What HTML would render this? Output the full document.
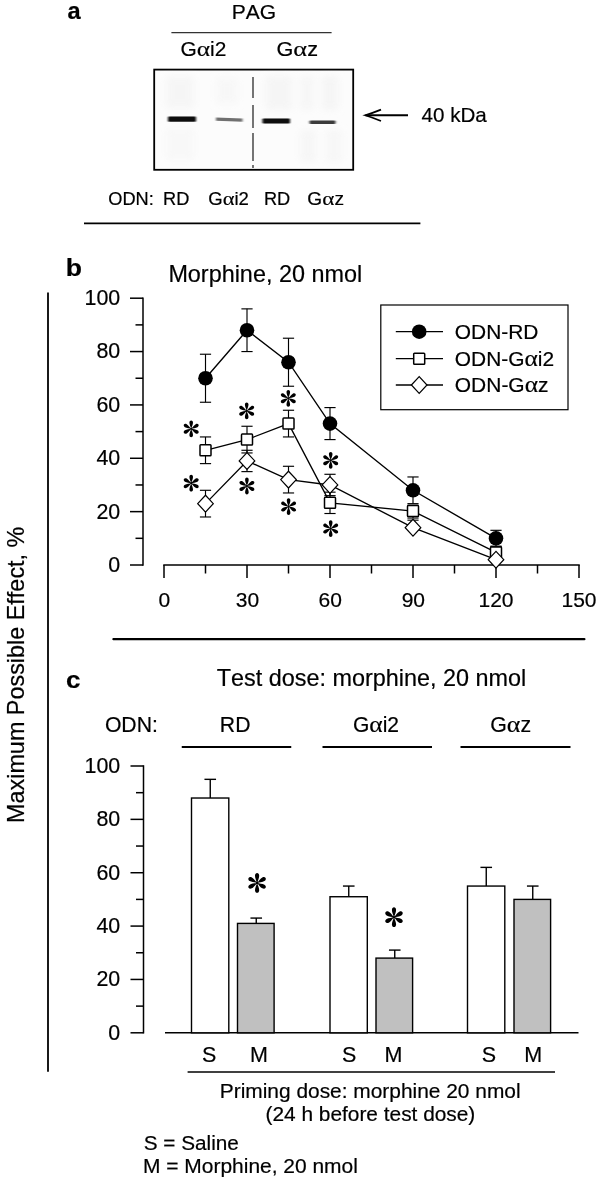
<!DOCTYPE html>
<html><head><meta charset="utf-8"><title>Figure</title>
<style>
html,body{margin:0;padding:0;background:#fff;}
body{width:600px;height:1180px;overflow:hidden;font-family:"Liberation Sans",sans-serif;}
svg{display:block;}
svg text{font-family:"Liberation Sans",sans-serif;fill:#000;font-kerning:none;stroke:#000;stroke-width:0.2px;}
svg text.al{font-family:"Liberation Serif",serif;stroke-width:0.15px;}
</style></head><body>
<svg width="600" height="1180" viewBox="0 0 600 1180" style="opacity:0.999">
<rect width="600" height="1180" fill="#fff"/>
<defs>
<g id="ast">
<circle r="1.1" fill="#000"/>
<path id="arm" d="M0,0 C-0.5,-1.6 -1.85,-4.4 -1.8,-6.2 C-1.75,-7.6 -0.95,-8.4 0,-8.4 C0.95,-8.4 1.75,-7.6 1.8,-6.2 C1.85,-4.4 0.5,-1.6 0,0 Z" fill="#000"/>
<use href="#arm" transform="rotate(60)"/>
<use href="#arm" transform="rotate(120)"/>
<use href="#arm" transform="rotate(180)"/>
<use href="#arm" transform="rotate(240)"/>
<use href="#arm" transform="rotate(300)"/>
</g>
<filter id="b1" x="-20%" y="-150%" width="140%" height="400%"><feGaussianBlur stdDeviation="0.8 0.6"/></filter>
<filter id="b2" x="-30%" y="-30%" width="160%" height="160%"><feGaussianBlur stdDeviation="3.5"/></filter>
</defs>
<text transform="translate(67.51,19.3) scale(0.9929,1)" font-size="23.8" font-weight="bold" xml:space="preserve">a</text>
<text x="231.65" y="18.8" font-size="21" font-weight="normal" xml:space="preserve">PAG</text>
<line x1="171.4" y1="32.6" x2="331.6" y2="32.6" stroke="#333" stroke-width="1.1"/>
<text transform="translate(180.45,55.6) scale(1.0192,1)" font-size="20.5" font-weight="normal" xml:space="preserve">G</text>
<text transform="translate(196.7,55.6) scale(1.2373,1.06)" font-size="20.5" font-family="Liberation Serif, serif" class="al">α</text>
<text transform="translate(209.99,55.6) scale(1.0192,1)" font-size="20.5" font-weight="normal" xml:space="preserve">i2</text>
<text transform="translate(276.51,55.6) scale(1.0569,1)" font-size="20.5" font-weight="normal" xml:space="preserve">G</text>
<text transform="translate(293.36,55.6) scale(1.2831,1.06)" font-size="20.5" font-family="Liberation Serif, serif" class="al">α</text>
<text transform="translate(307.15,55.6) scale(1.0569,1)" font-size="20.5" font-weight="normal" xml:space="preserve">z</text>
<rect x="154.2" y="69.6" width="199" height="100.2" fill="#fcfcfc" stroke="#000" stroke-width="1.8"/>
<g filter="url(#b2)" opacity="0.55"><rect x="166" y="76" width="28" height="32" fill="#f1f1f1"/><rect x="216" y="78" width="22" height="26" fill="#f4f4f4"/><rect x="266" y="76" width="26" height="34" fill="#f0f0f0"/><rect x="300" y="76" width="14" height="34" fill="#f2f2f2"/><rect x="322" y="76" width="16" height="34" fill="#f0f0f0"/><rect x="166" y="128" width="28" height="32" fill="#f5f5f5"/><rect x="300" y="130" width="16" height="32" fill="#f2f2f2"/><rect x="326" y="130" width="16" height="32" fill="#f3f3f3"/></g>
<line x1="253" y1="77" x2="253" y2="168" stroke="#3c3c3c" stroke-width="1.4" stroke-dasharray="21 7 23 5 28 4 3 100"/>
<g filter="url(#b1)"><rect x="168" y="116.6" width="28" height="5.2" rx="1" fill="#0a0a0a"/><path d="M216,117.4 L242.5,118.6 L242.5,121.8 L216,120.8 Z" fill="#707070"/><rect x="262.5" y="118.6" width="27.5" height="4.8" rx="1" fill="#0d0d0d"/><rect x="309.5" y="120.6" width="26" height="3.4" rx="1" fill="#3a3a3a"/></g>
<line x1="365.5" y1="115.3" x2="408" y2="115.3" stroke="#000" stroke-width="1.9" />
<path d="M381,109.6 Q372,113.2 365.2,115.3 Q372,117.4 381,121" fill="none" stroke="#000" stroke-width="1.7" stroke-linejoin="miter"/>
<text x="421.53" y="122.2" font-size="20.6" font-weight="normal" xml:space="preserve">40 kDa</text>
<text x="108.34" y="205" font-size="18.2" font-weight="normal" xml:space="preserve">ODN:</text>
<text x="163.11" y="205" font-size="18.2" font-weight="normal" xml:space="preserve">RD</text>
<text transform="translate(208.27,205) scale(1.0192,1)" font-size="18.2" font-weight="normal" xml:space="preserve">G</text>
<text transform="translate(222.7,205) scale(1.2374,1.06)" font-size="18.2" font-family="Liberation Serif, serif" class="al">α</text>
<text transform="translate(234.49,205) scale(1.0192,1)" font-size="18.2" font-weight="normal" xml:space="preserve">i2</text>
<text x="263.91" y="205" font-size="18.2" font-weight="normal" xml:space="preserve">RD</text>
<text transform="translate(307.34,205) scale(1.0512,1)" font-size="18.2" font-weight="normal" xml:space="preserve">G</text>
<text transform="translate(322.22,205) scale(1.2761,1.06)" font-size="18.2" font-family="Liberation Serif, serif" class="al">α</text>
<text transform="translate(334.39,205) scale(1.0512,1)" font-size="18.2" font-weight="normal" xml:space="preserve">z</text>
<line x1="84" y1="223.4" x2="420.4" y2="223.4" stroke="#000" stroke-width="1.7" />
<line x1="48" y1="292.4" x2="48" y2="1071.7" stroke="#000" stroke-width="1.8" />
<text transform="translate(24.1,823) rotate(-90)" font-size="23.4" text-anchor="start">Maximum Possible Effect, %</text>
<text transform="translate(65.85,275.8) scale(1.1173,1)" font-size="23.8" font-weight="bold" xml:space="preserve">b</text>
<text x="168.38" y="282" font-size="23.4" font-weight="normal" xml:space="preserve">Morphine, 20 nmol</text>
<line x1="143" y1="297.45" x2="143" y2="565.75" stroke="#000" stroke-width="1.5" />
<line x1="130" y1="565.0" x2="143" y2="565.0" stroke="#000" stroke-width="1.5" />
<text x="108.33" y="571.9" font-size="21.4" font-weight="normal" xml:space="preserve">0</text>
<line x1="135.5" y1="538.32" x2="143" y2="538.32" stroke="#000" stroke-width="1.5" />
<line x1="130" y1="511.64" x2="143" y2="511.64" stroke="#000" stroke-width="1.5" />
<text x="96.43" y="518.54" font-size="21.4" font-weight="normal" xml:space="preserve">20</text>
<line x1="135.5" y1="484.96" x2="143" y2="484.96" stroke="#000" stroke-width="1.5" />
<line x1="130" y1="458.28" x2="143" y2="458.28" stroke="#000" stroke-width="1.5" />
<text x="96.43" y="465.17999999999995" font-size="21.4" font-weight="normal" xml:space="preserve">40</text>
<line x1="135.5" y1="431.6" x2="143" y2="431.6" stroke="#000" stroke-width="1.5" />
<line x1="130" y1="404.92" x2="143" y2="404.92" stroke="#000" stroke-width="1.5" />
<text x="96.43" y="411.82" font-size="21.4" font-weight="normal" xml:space="preserve">60</text>
<line x1="135.5" y1="378.24" x2="143" y2="378.24" stroke="#000" stroke-width="1.5" />
<line x1="130" y1="351.56" x2="143" y2="351.56" stroke="#000" stroke-width="1.5" />
<text x="96.43" y="358.46" font-size="21.4" font-weight="normal" xml:space="preserve">80</text>
<line x1="135.5" y1="324.88" x2="143" y2="324.88" stroke="#000" stroke-width="1.5" />
<line x1="130" y1="298.2" x2="143" y2="298.2" stroke="#000" stroke-width="1.5" />
<text x="84.53" y="305.09999999999997" font-size="21.4" font-weight="normal" xml:space="preserve">100</text>
<line x1="163.25" y1="565" x2="579.75" y2="565" stroke="#000" stroke-width="1.5" />
<line x1="164.0" y1="565" x2="164.0" y2="578" stroke="#000" stroke-width="1.5" />
<text x="158.56" y="607" font-size="21" font-weight="normal" xml:space="preserve">0</text>
<line x1="205.5" y1="565" x2="205.5" y2="573.5" stroke="#000" stroke-width="1.5" />
<line x1="247.0" y1="565" x2="247.0" y2="578" stroke="#000" stroke-width="1.5" />
<text x="235.73" y="607" font-size="21" font-weight="normal" xml:space="preserve">30</text>
<line x1="288.5" y1="565" x2="288.5" y2="573.5" stroke="#000" stroke-width="1.5" />
<line x1="330.0" y1="565" x2="330.0" y2="578" stroke="#000" stroke-width="1.5" />
<text x="318.6" y="607" font-size="21" font-weight="normal" xml:space="preserve">60</text>
<line x1="371.5" y1="565" x2="371.5" y2="573.5" stroke="#000" stroke-width="1.5" />
<line x1="413.0" y1="565" x2="413.0" y2="578" stroke="#000" stroke-width="1.5" />
<text x="401.64" y="607" font-size="21" font-weight="normal" xml:space="preserve">90</text>
<line x1="454.5" y1="565" x2="454.5" y2="573.5" stroke="#000" stroke-width="1.5" />
<line x1="496.0" y1="565" x2="496.0" y2="578" stroke="#000" stroke-width="1.5" />
<text x="478.49" y="607" font-size="21" font-weight="normal" xml:space="preserve">120</text>
<line x1="537.5" y1="565" x2="537.5" y2="573.5" stroke="#000" stroke-width="1.5" />
<line x1="579.0" y1="565" x2="579.0" y2="578" stroke="#000" stroke-width="1.5" />
<text x="561.49" y="607" font-size="21" font-weight="normal" xml:space="preserve">150</text>
<line x1="113.4" y1="639.2" x2="584.4" y2="639.2" stroke="#000" stroke-width="2.2" stroke-linecap="round"/>
<polyline points="205.5,378.24 247.0,330.22 288.5,362.23 330.0,423.6 413.0,490.3 496.0,538.32" fill="none" stroke="#000" stroke-width="1.35"/>
<line x1="205.5" y1="378.24" x2="205.5" y2="354.23" stroke="#000" stroke-width="1.15" />
<line x1="199.9" y1="354.23" x2="211.1" y2="354.23" stroke="#000" stroke-width="1.15" />
<line x1="205.5" y1="378.24" x2="205.5" y2="402.25" stroke="#000" stroke-width="1.15" />
<line x1="199.9" y1="402.25" x2="211.1" y2="402.25" stroke="#000" stroke-width="1.15" />
<line x1="247.0" y1="330.22" x2="247.0" y2="308.87" stroke="#000" stroke-width="1.15" />
<line x1="241.4" y1="308.87" x2="252.6" y2="308.87" stroke="#000" stroke-width="1.15" />
<line x1="247.0" y1="330.22" x2="247.0" y2="351.56" stroke="#000" stroke-width="1.15" />
<line x1="241.4" y1="351.56" x2="252.6" y2="351.56" stroke="#000" stroke-width="1.15" />
<line x1="288.5" y1="362.23" x2="288.5" y2="338.22" stroke="#000" stroke-width="1.15" />
<line x1="282.9" y1="338.22" x2="294.1" y2="338.22" stroke="#000" stroke-width="1.15" />
<line x1="288.5" y1="362.23" x2="288.5" y2="386.24" stroke="#000" stroke-width="1.15" />
<line x1="282.9" y1="386.24" x2="294.1" y2="386.24" stroke="#000" stroke-width="1.15" />
<line x1="330.0" y1="423.6" x2="330.0" y2="407.59" stroke="#000" stroke-width="1.15" />
<line x1="324.4" y1="407.59" x2="335.6" y2="407.59" stroke="#000" stroke-width="1.15" />
<line x1="330.0" y1="423.6" x2="330.0" y2="439.6" stroke="#000" stroke-width="1.15" />
<line x1="324.4" y1="439.6" x2="335.6" y2="439.6" stroke="#000" stroke-width="1.15" />
<line x1="413.0" y1="490.3" x2="413.0" y2="476.96" stroke="#000" stroke-width="1.15" />
<line x1="407.4" y1="476.96" x2="418.6" y2="476.96" stroke="#000" stroke-width="1.15" />
<line x1="413.0" y1="490.3" x2="413.0" y2="503.64" stroke="#000" stroke-width="1.15" />
<line x1="407.4" y1="503.64" x2="418.6" y2="503.64" stroke="#000" stroke-width="1.15" />
<line x1="496.0" y1="538.32" x2="496.0" y2="530.32" stroke="#000" stroke-width="1.15" />
<line x1="490.4" y1="530.32" x2="501.6" y2="530.32" stroke="#000" stroke-width="1.15" />
<line x1="496.0" y1="538.32" x2="496.0" y2="546.32" stroke="#000" stroke-width="1.15" />
<line x1="490.4" y1="546.32" x2="501.6" y2="546.32" stroke="#000" stroke-width="1.15" />
<circle cx="205.5" cy="378.24" r="7.3" fill="#000"/>
<circle cx="247.0" cy="330.22" r="7.3" fill="#000"/>
<circle cx="288.5" cy="362.23" r="7.3" fill="#000"/>
<circle cx="330.0" cy="423.6" r="7.3" fill="#000"/>
<circle cx="413.0" cy="490.3" r="7.3" fill="#000"/>
<circle cx="496.0" cy="538.32" r="7.3" fill="#000"/>
<polyline points="205.5,450.28 247.0,439.6 288.5,423.6 330.0,502.84 413.0,511.11 496.0,552.46" fill="none" stroke="#000" stroke-width="1.35"/>
<line x1="205.5" y1="450.28" x2="205.5" y2="436.94" stroke="#000" stroke-width="1.15" />
<line x1="199.9" y1="436.94" x2="211.1" y2="436.94" stroke="#000" stroke-width="1.15" />
<line x1="205.5" y1="450.28" x2="205.5" y2="463.62" stroke="#000" stroke-width="1.15" />
<line x1="199.9" y1="463.62" x2="211.1" y2="463.62" stroke="#000" stroke-width="1.15" />
<line x1="247.0" y1="439.6" x2="247.0" y2="426.26" stroke="#000" stroke-width="1.15" />
<line x1="241.4" y1="426.26" x2="252.6" y2="426.26" stroke="#000" stroke-width="1.15" />
<line x1="247.0" y1="439.6" x2="247.0" y2="452.94" stroke="#000" stroke-width="1.15" />
<line x1="241.4" y1="452.94" x2="252.6" y2="452.94" stroke="#000" stroke-width="1.15" />
<line x1="288.5" y1="423.6" x2="288.5" y2="410.26" stroke="#000" stroke-width="1.15" />
<line x1="282.9" y1="410.26" x2="294.1" y2="410.26" stroke="#000" stroke-width="1.15" />
<line x1="288.5" y1="423.6" x2="288.5" y2="436.94" stroke="#000" stroke-width="1.15" />
<line x1="282.9" y1="436.94" x2="294.1" y2="436.94" stroke="#000" stroke-width="1.15" />
<line x1="330.0" y1="502.84" x2="330.0" y2="492.16" stroke="#000" stroke-width="1.15" />
<line x1="324.4" y1="492.16" x2="335.6" y2="492.16" stroke="#000" stroke-width="1.15" />
<line x1="330.0" y1="502.84" x2="330.0" y2="513.51" stroke="#000" stroke-width="1.15" />
<line x1="324.4" y1="513.51" x2="335.6" y2="513.51" stroke="#000" stroke-width="1.15" />
<line x1="413.0" y1="511.11" x2="413.0" y2="505.24" stroke="#000" stroke-width="1.15" />
<line x1="407.4" y1="505.24" x2="418.6" y2="505.24" stroke="#000" stroke-width="1.15" />
<line x1="413.0" y1="511.11" x2="413.0" y2="518.04" stroke="#000" stroke-width="1.15" />
<line x1="407.4" y1="518.04" x2="418.6" y2="518.04" stroke="#000" stroke-width="1.15" />
<line x1="496.0" y1="552.46" x2="496.0" y2="546.32" stroke="#000" stroke-width="1.15" />
<line x1="490.4" y1="546.32" x2="501.6" y2="546.32" stroke="#000" stroke-width="1.15" />
<rect x="200.0" y="444.78" width="11" height="11" rx="0.8" fill="#fff" stroke="#000" stroke-width="1.5"/>
<rect x="241.5" y="434.1" width="11" height="11" rx="0.8" fill="#fff" stroke="#000" stroke-width="1.5"/>
<rect x="283.0" y="418.1" width="11" height="11" rx="0.8" fill="#fff" stroke="#000" stroke-width="1.5"/>
<rect x="324.5" y="497.34" width="11" height="11" rx="0.8" fill="#fff" stroke="#000" stroke-width="1.5"/>
<rect x="407.5" y="505.61" width="11" height="11" rx="0.8" fill="#fff" stroke="#000" stroke-width="1.5"/>
<rect x="490.5" y="546.96" width="11" height="11" rx="0.8" fill="#fff" stroke="#000" stroke-width="1.5"/>
<polyline points="205.5,503.64 247.0,460.95 288.5,479.62 330.0,484.96 413.0,527.65 496.0,559.66" fill="none" stroke="#000" stroke-width="1.35"/>
<line x1="205.5" y1="503.64" x2="205.5" y2="490.3" stroke="#000" stroke-width="1.15" />
<line x1="199.9" y1="490.3" x2="211.1" y2="490.3" stroke="#000" stroke-width="1.15" />
<line x1="205.5" y1="503.64" x2="205.5" y2="516.98" stroke="#000" stroke-width="1.15" />
<line x1="199.9" y1="516.98" x2="211.1" y2="516.98" stroke="#000" stroke-width="1.15" />
<line x1="247.0" y1="460.95" x2="247.0" y2="450.28" stroke="#000" stroke-width="1.15" />
<line x1="241.4" y1="450.28" x2="252.6" y2="450.28" stroke="#000" stroke-width="1.15" />
<line x1="247.0" y1="460.95" x2="247.0" y2="471.62" stroke="#000" stroke-width="1.15" />
<line x1="241.4" y1="471.62" x2="252.6" y2="471.62" stroke="#000" stroke-width="1.15" />
<line x1="288.5" y1="479.62" x2="288.5" y2="466.28" stroke="#000" stroke-width="1.15" />
<line x1="282.9" y1="466.28" x2="294.1" y2="466.28" stroke="#000" stroke-width="1.15" />
<line x1="288.5" y1="479.62" x2="288.5" y2="492.96" stroke="#000" stroke-width="1.15" />
<line x1="282.9" y1="492.96" x2="294.1" y2="492.96" stroke="#000" stroke-width="1.15" />
<line x1="330.0" y1="484.96" x2="330.0" y2="474.29" stroke="#000" stroke-width="1.15" />
<line x1="324.4" y1="474.29" x2="335.6" y2="474.29" stroke="#000" stroke-width="1.15" />
<line x1="330.0" y1="484.96" x2="330.0" y2="495.63" stroke="#000" stroke-width="1.15" />
<line x1="324.4" y1="495.63" x2="335.6" y2="495.63" stroke="#000" stroke-width="1.15" />
<line x1="413.0" y1="527.65" x2="413.0" y2="520.18" stroke="#000" stroke-width="1.15" />
<line x1="407.4" y1="520.18" x2="418.6" y2="520.18" stroke="#000" stroke-width="1.15" />
<path d="M197.7,503.64 L205.5,495.24 L213.3,503.64 L205.5,512.04 Z" fill="#fff" stroke="#000" stroke-width="1.2"/>
<path d="M239.2,460.95 L247.0,452.55 L254.8,460.95 L247.0,469.35 Z" fill="#fff" stroke="#000" stroke-width="1.2"/>
<path d="M280.7,479.62 L288.5,471.22 L296.3,479.62 L288.5,488.02 Z" fill="#fff" stroke="#000" stroke-width="1.2"/>
<path d="M322.2,484.96 L330.0,476.56 L337.8,484.96 L330.0,493.36 Z" fill="#fff" stroke="#000" stroke-width="1.2"/>
<path d="M405.2,527.65 L413.0,519.25 L420.8,527.65 L413.0,536.05 Z" fill="#fff" stroke="#000" stroke-width="1.2"/>
<path d="M488.2,559.66 L496.0,551.26 L503.8,559.66 L496.0,568.06 Z" fill="#fff" stroke="#000" stroke-width="1.2"/>
<use href="#ast" transform="translate(191.2,428.8) scale(1.0)"/>
<use href="#ast" transform="translate(246.7,410.8) scale(1.0)"/>
<use href="#ast" transform="translate(288.3,398.3) scale(1.0)"/>
<use href="#ast" transform="translate(330.7,460.3) scale(1.0)"/>
<use href="#ast" transform="translate(191.2,483.2) scale(1.0)"/>
<use href="#ast" transform="translate(246.9,486) scale(1.0)"/>
<use href="#ast" transform="translate(288.6,506.6) scale(1.0)"/>
<use href="#ast" transform="translate(330.7,528.6) scale(1.0)"/>
<rect x="380.8" y="305" width="187.2" height="104.7" fill="#fff" stroke="#000" stroke-width="1.2"/>
<line x1="395.8" y1="331.7" x2="443" y2="331.7" stroke="#000" stroke-width="1.3" />
<circle cx="419.2" cy="331.7" r="7.3" fill="#000"/>
<text transform="translate(454.81,339.0) scale(0.9965,1)" font-size="21" font-weight="normal" xml:space="preserve">ODN-RD</text>
<line x1="395.8" y1="358.7" x2="443" y2="358.7" stroke="#000" stroke-width="1.3" />
<rect x="413.7" y="353.2" width="11" height="11" rx="0.8" fill="#fff" stroke="#000" stroke-width="1.5"/>
<text transform="translate(454.81,366.0) scale(0.9955,1)" font-size="21" font-weight="normal" xml:space="preserve">ODN-G</text>
<text transform="translate(524.48,366.0) scale(1.2085,1.06)" font-size="21" font-family="Liberation Serif, serif" class="al">α</text>
<text transform="translate(537.78,366.0) scale(0.9955,1)" font-size="21" font-weight="normal" xml:space="preserve">i2</text>
<line x1="395.8" y1="385" x2="443" y2="385" stroke="#000" stroke-width="1.3" />
<path d="M411.4,385 L419.2,376.6 L427.0,385 L419.2,393.4 Z" fill="#fff" stroke="#000" stroke-width="1.2"/>
<text transform="translate(454.81,392.3) scale(0.9988,1)" font-size="21" font-weight="normal" xml:space="preserve">ODN-G</text>
<text transform="translate(524.72,392.3) scale(1.2126,1.06)" font-size="21" font-family="Liberation Serif, serif" class="al">α</text>
<text transform="translate(538.06,392.3) scale(0.9988,1)" font-size="21" font-weight="normal" xml:space="preserve">z</text>
<text transform="translate(65.98,687.8) scale(1.0939,1)" font-size="23.8" font-weight="bold" xml:space="preserve">c</text>
<text x="216.77" y="686" font-size="23.4" font-weight="normal" xml:space="preserve">Test dose: morphine, 20 nmol</text>
<text x="104.9" y="731.7" font-size="21.2" font-weight="normal" xml:space="preserve">ODN:</text>
<text x="219.86" y="731.7" font-size="21.2" font-weight="normal" xml:space="preserve">RD</text>
<text transform="translate(352.94,731.7) scale(0.9923,1)" font-size="21.2" font-weight="normal" xml:space="preserve">G</text>
<text transform="translate(369.3,731.7) scale(1.2046,1.06)" font-size="21.2" font-family="Liberation Serif, serif" class="al">α</text>
<text transform="translate(382.68,731.7) scale(0.9923,1)" font-size="21.2" font-weight="normal" xml:space="preserve">i2</text>
<text transform="translate(490.23,731.7) scale(1.0064,1)" font-size="21.2" font-weight="normal" xml:space="preserve">G</text>
<text transform="translate(506.82,731.7) scale(1.2218,1.06)" font-size="21.2" font-family="Liberation Serif, serif" class="al">α</text>
<text transform="translate(520.39,731.7) scale(1.0064,1)" font-size="21.2" font-weight="normal" xml:space="preserve">z</text>
<line x1="181.75" y1="747" x2="291.25" y2="747" stroke="#000" stroke-width="2" />
<line x1="322.5" y1="747" x2="432" y2="747" stroke="#000" stroke-width="2" />
<line x1="460.5" y1="747" x2="570.5" y2="747" stroke="#000" stroke-width="2" />
<line x1="143.5" y1="765.25" x2="143.5" y2="1033.55" stroke="#000" stroke-width="1.5" />
<line x1="130.5" y1="1032.8" x2="143.5" y2="1032.8" stroke="#000" stroke-width="1.5" />
<text x="108.33" y="1039.7" font-size="21.4" font-weight="normal" xml:space="preserve">0</text>
<line x1="136" y1="1006.12" x2="143.5" y2="1006.12" stroke="#000" stroke-width="1.5" />
<line x1="130.5" y1="979.44" x2="143.5" y2="979.44" stroke="#000" stroke-width="1.5" />
<text x="96.43" y="986.34" font-size="21.4" font-weight="normal" xml:space="preserve">20</text>
<line x1="136" y1="952.76" x2="143.5" y2="952.76" stroke="#000" stroke-width="1.5" />
<line x1="130.5" y1="926.08" x2="143.5" y2="926.08" stroke="#000" stroke-width="1.5" />
<text x="96.43" y="932.98" font-size="21.4" font-weight="normal" xml:space="preserve">40</text>
<line x1="136" y1="899.4" x2="143.5" y2="899.4" stroke="#000" stroke-width="1.5" />
<line x1="130.5" y1="872.72" x2="143.5" y2="872.72" stroke="#000" stroke-width="1.5" />
<text x="96.43" y="879.62" font-size="21.4" font-weight="normal" xml:space="preserve">60</text>
<line x1="136" y1="846.04" x2="143.5" y2="846.04" stroke="#000" stroke-width="1.5" />
<line x1="130.5" y1="819.36" x2="143.5" y2="819.36" stroke="#000" stroke-width="1.5" />
<text x="96.43" y="826.26" font-size="21.4" font-weight="normal" xml:space="preserve">80</text>
<line x1="136" y1="792.68" x2="143.5" y2="792.68" stroke="#000" stroke-width="1.5" />
<line x1="130.5" y1="766.0" x2="143.5" y2="766.0" stroke="#000" stroke-width="1.5" />
<text x="84.53" y="772.9" font-size="21.4" font-weight="normal" xml:space="preserve">100</text>
<line x1="165" y1="1032.8" x2="578.5" y2="1032.8" stroke="#000" stroke-width="1.5" />
<line x1="210.25" y1="798.02" x2="210.25" y2="779.34" stroke="#000" stroke-width="1.4" />
<line x1="204.45" y1="779.34" x2="216.05" y2="779.34" stroke="#000" stroke-width="1.4" />
<rect x="191.5" y="798.02" width="37.3" height="234.78" fill="#fff" stroke="#000" stroke-width="1.4"/>
<text x="201.94" y="1062" font-size="21.5" font-weight="normal" xml:space="preserve">S</text>
<line x1="256.25" y1="923.41" x2="256.25" y2="918.08" stroke="#000" stroke-width="1.4" />
<line x1="250.45" y1="918.08" x2="262.05" y2="918.08" stroke="#000" stroke-width="1.4" />
<rect x="237.5" y="923.41" width="36.6" height="109.39" fill="#c0c0c0" stroke="#000" stroke-width="1.4"/>
<text x="250.05" y="1062" font-size="21.5" font-weight="normal" xml:space="preserve">M</text>
<line x1="348.75" y1="896.73" x2="348.75" y2="886.06" stroke="#000" stroke-width="1.4" />
<line x1="342.95" y1="886.06" x2="354.55" y2="886.06" stroke="#000" stroke-width="1.4" />
<rect x="330" y="896.73" width="37.3" height="136.07" fill="#fff" stroke="#000" stroke-width="1.4"/>
<text x="341.94" y="1062" font-size="21.5" font-weight="normal" xml:space="preserve">S</text>
<line x1="394.75" y1="958.1" x2="394.75" y2="950.09" stroke="#000" stroke-width="1.4" />
<line x1="388.95" y1="950.09" x2="400.55" y2="950.09" stroke="#000" stroke-width="1.4" />
<rect x="376" y="958.1" width="36.6" height="74.7" fill="#c0c0c0" stroke="#000" stroke-width="1.4"/>
<text x="384.55" y="1062" font-size="21.5" font-weight="normal" xml:space="preserve">M</text>
<line x1="486.25" y1="886.06" x2="486.25" y2="867.38" stroke="#000" stroke-width="1.4" />
<line x1="480.45" y1="867.38" x2="492.05" y2="867.38" stroke="#000" stroke-width="1.4" />
<rect x="467.5" y="886.06" width="37.3" height="146.74" fill="#fff" stroke="#000" stroke-width="1.4"/>
<text x="481.84" y="1062" font-size="21.5" font-weight="normal" xml:space="preserve">S</text>
<line x1="532.75" y1="899.4" x2="532.75" y2="886.06" stroke="#000" stroke-width="1.4" />
<line x1="526.95" y1="886.06" x2="538.55" y2="886.06" stroke="#000" stroke-width="1.4" />
<rect x="514" y="899.4" width="36.6" height="133.4" fill="#c0c0c0" stroke="#000" stroke-width="1.4"/>
<text x="524.35" y="1062" font-size="21.5" font-weight="normal" xml:space="preserve">M</text>
<use href="#ast" transform="translate(257.1,882.9) scale(1.17)"/>
<use href="#ast" transform="translate(394,917.2) scale(1.17)"/>
<line x1="187.6" y1="1072" x2="555" y2="1072" stroke="#000" stroke-width="1.7" />
<text transform="translate(219.78,1097.7) scale(0.996,1)" font-size="21" font-weight="normal" xml:space="preserve">Priming dose: morphine 20 nmol</text>
<text transform="translate(265.51,1120.9) scale(0.9934,1)" font-size="21" font-weight="normal" xml:space="preserve">(24 h before test dose)</text>
<text transform="translate(143.76,1149.5) scale(0.9881,1)" font-size="21" font-weight="normal" xml:space="preserve">S = Saline</text>
<text transform="translate(142.98,1172.8) scale(0.9989,1)" font-size="21" font-weight="normal" xml:space="preserve">M = Morphine, 20 nmol</text>
</svg>
</body></html>
